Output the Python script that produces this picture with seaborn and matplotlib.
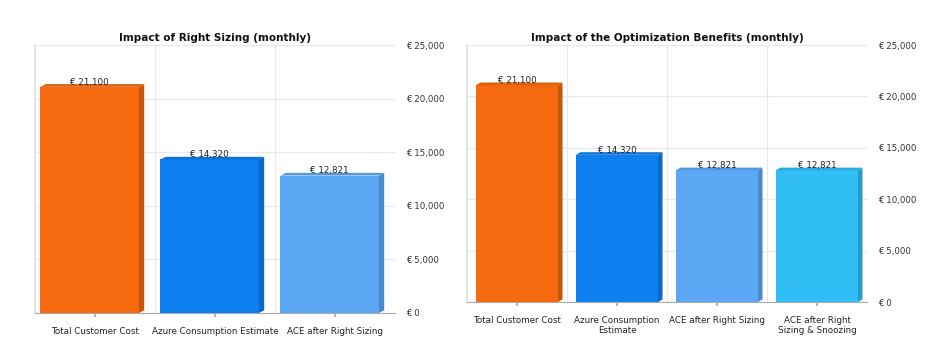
import matplotlib
matplotlib.use("Agg")
import matplotlib.pyplot as plt
import seaborn as sns
from matplotlib.patches import Polygon
from matplotlib.ticker import FuncFormatter, FixedLocator

# data
left_title = "Impact of Right Sizing (monthly)"
left_cats = ["Total Customer Cost", "Azure Consumption Estimate", "ACE after Right Sizing"]
left_vals = [21100, 14320, 12821]
left_colors = ["#F56A0E", "#0E7FEF", "#5CA8F5"]

right_title = "Impact of the Optimization Benefits (monthly)"
right_cats = ["Total Customer Cost", "Azure Consumption\nEstimate", "ACE after Right Sizing",
              "ACE after Right\nSizing & Snoozing"]
right_vals = [21100, 14320, 12821, 12821]
right_colors = ["#F56A0E", "#0E7FEF", "#5CA8F5", "#30BEF4"]

y_ticks = [0, 5000, 10000, 15000, 20000, 25000]

sns.set_theme(style="white")
plt.rcParams["font.family"] = ["DejaVu Sans"]

fig = plt.figure(figsize=(9.5, 3.56), dpi=100)
ax1 = fig.add_axes([35 / 950, 43 / 356, 360 / 950, 268 / 356])
ax2 = fig.add_axes([467 / 950, 54 / 356, 400 / 950, 257 / 356])


def shade(c, f):
    r, g, b = matplotlib.colors.to_rgb(c)
    return (r * f, g * f, b * f)


def draw(ax, cats, vals, colors, title, width, shift):
    sns.barplot(x=cats, y=vals, hue=cats, palette=colors, legend=False,
                width=width, saturation=1, ax=ax, zorder=3, linewidth=0)
    ax.set_xlim(-0.5, len(cats) - 0.5)
    ax.set_ylim(0, 25000)
    dx, dy = 0.045, 250
    for p, c, v in zip(ax.patches, colors, vals):
        p.set_x(p.get_x() + shift)
        x0 = p.get_x()
        x1 = x0 + p.get_width()
        h = p.get_height()
        side = Polygon([(x1, 0), (x1 + dx, dy), (x1 + dx, h + dy), (x1, h)],
                       closed=True, color=shade(c, 0.82), zorder=3, lw=0)
        top = Polygon([(x0, h), (x0 + dx, h + dy), (x1 + dx, h + dy), (x1, h)],
                      closed=True, color=shade(c, 0.9), zorder=3, lw=0)
        ax.add_patch(side)
        ax.add_patch(top)
        ax.text(x0 + p.get_width() / 2, h + dy * 0.1, f"€ {v:,.0f}",
                ha="center", va="bottom", fontsize=6.3, color="#222222", zorder=4)
    ax.yaxis.tick_right()
    ax.yaxis.set_major_locator(FixedLocator(y_ticks))
    ax.yaxis.set_major_formatter(FuncFormatter(lambda v, _: f"€ {v:,.0f}"))
    ax.xaxis.set_minor_locator(FixedLocator([i + 0.5 for i in range(len(cats) - 1)]))
    ax.grid(axis="y", which="major", color="#E8E8E8", lw=0.8, zorder=0)
    ax.grid(axis="x", which="minor", color="#E8E8E8", lw=0.8, zorder=0)
    ax.tick_params(axis="y", which="major", labelsize=6.2, labelcolor="#333333",
                   length=0, pad=8)
    ax.tick_params(axis="x", which="major", labelsize=6.3, labelcolor="#222222",
                   length=3, color="#AAAAAA", bottom=True, pad=7)
    ax.tick_params(axis="x", which="minor", length=0)
    for s in ["top", "right"]:
        ax.spines[s].set_visible(False)
    ax.spines["left"].set_color("#E0E0E0")
    ax.spines["bottom"].set_color("#AAAAAA")
    ax.spines["bottom"].set_linewidth(0.8)
    ax.set_title(title, fontsize=7.5, fontweight="bold", pad=3, color="#111111")
    ax.set_xlabel("")
    ax.set_ylabel("")


draw(ax1, left_cats, left_vals, left_colors, left_title, 0.82, -0.045)
draw(ax2, right_cats, right_vals, right_colors, right_title, 0.82, 0.0)

fig.savefig("out.png", dpi=100)
